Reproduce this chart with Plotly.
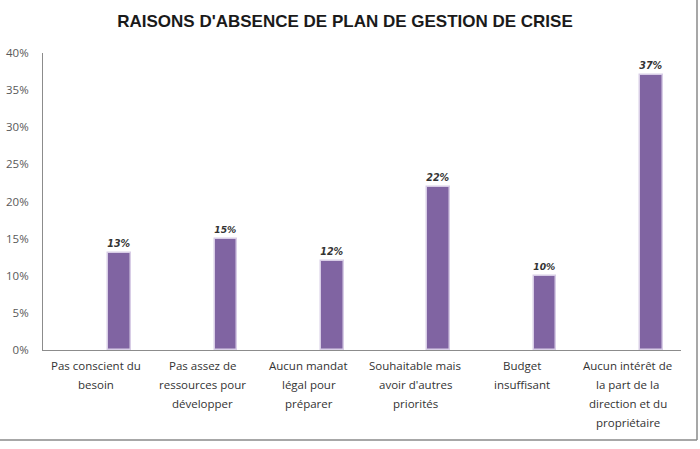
import plotly.graph_objects as go

categories = [
    "Pas conscient du<br>besoin",
    "Pas assez de<br>ressources pour<br>développer",
    "Aucun mandat<br>légal pour<br>préparer",
    "Souhaitable mais<br>avoir d'autres<br>priorités",
    "Budget<br>insuffisant",
    "Aucun intérêt de<br>la part de la<br>direction et du<br>propriétaire",
]
values = [0.13, 0.15, 0.12, 0.22, 0.10, 0.37]
value_labels = ["13%", "15%", "12%", "22%", "10%", "37%"]
y_ticks = [0, 0.05, 0.10, 0.15, 0.20, 0.25, 0.30, 0.35, 0.40]
y_tick_labels = ["0%", "5%", "10%", "15%", "20%", "25%", "30%", "35%", "40%"]
title = "RAISONS D'ABSENCE DE PLAN DE GESTION DE CRISE"

W, H = 700, 449
ml, mr, mt, mb = 43, 19, 53, 99

x_pos = list(range(len(categories)))

fig = go.Figure()
fig.add_trace(go.Bar(
    x=x_pos,
    y=values,
    width=0.215,
    offset=0.113,
    marker=dict(color="#8064A2", line=dict(color="#D8CDE6", width=1.5)),
    text=value_labels,
    textposition="outside",
    cliponaxis=False,
    textfont=dict(family="DejaVu Sans", size=12.5, color="#333333", weight="bold", style="italic"),
    hoverinfo="skip",
))

annotations = []
for i, cat in enumerate(categories):
    for k, line in enumerate(cat.split("<br>")):
        annotations.append(dict(
            x=i, y=0, xref="x", yref="y", text=line, showarrow=False,
            xanchor="center", yanchor="middle", yshift=-(15 + 19 * k),
            font=dict(family="Open Sans", size=11.5, color="#333333"),
        ))

pw = W - ml - mr
ph = H - mt - mb
fx0, fx1 = (-5 - ml) / pw, (697 - ml) / pw
fy0, fy1 = (H - mb - 440) / ph, (H - mb + 5) / ph
frame_line = dict(color="#8a8a8a", width=1.5)
fig.update_layout(
    width=W, height=H,
    margin=dict(l=ml, r=mr, t=mt, b=mb, autoexpand=False),
    paper_bgcolor="white", plot_bgcolor="white",
    showlegend=False,
    bargap=0,
    title=dict(text="<b>" + title + "</b>", x=345 / W, xanchor="center",
               y=1 - 21 / H, yanchor="middle",
               font=dict(family="Liberation Sans Narrow, Liberation Sans", size=17, color="#1a1a1a")),
    xaxis=dict(range=[-0.5, 5.5], showticklabels=False, showgrid=False, zeroline=False,
               showline=True, linecolor="#8c8c8c", linewidth=1, ticks="", automargin=False),
    yaxis=dict(range=[0, 0.40], tickvals=y_ticks, ticktext=y_tick_labels, showgrid=False,
               zeroline=False, showline=True, linecolor="#8c8c8c", linewidth=1, ticks="",
               ticklabelstandoff=11, automargin=False,
               tickfont=dict(family="Open Sans", size=11.5, color="#595959")),
    annotations=annotations,
    shapes=[
        dict(type="line", xref="paper", yref="paper", x0=fx0, x1=fx1, y0=fy0, y1=fy0, line=frame_line),
        dict(type="line", xref="paper", yref="paper", x0=fx1, x1=fx1, y0=fy0, y1=fy1, line=frame_line),
    ],
    font=dict(family="Open Sans"),
)

fig.write_html(
    "out.html",
    config={"displayModeBar": False},
    post_script="document.body.style.margin='0';document.body.style.overflow='hidden';",
)
